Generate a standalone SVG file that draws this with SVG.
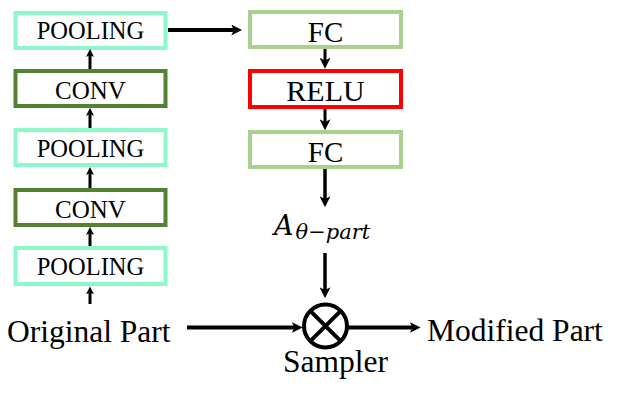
<svg xmlns="http://www.w3.org/2000/svg" width="623" height="401" viewBox="0 0 623 401">
<style>
.box{fill:#fff;stroke-width:4}
.pool{stroke:#8CF9CB}
.conv{stroke:#548235}
.fc{stroke:#A9D18E}
.relu{stroke:#FF0000}
.t{font-family:"Liberation Serif","Times New Roman",serif;fill:#000;text-anchor:middle}
.lbl{font-family:"Liberation Serif","Times New Roman",serif;fill:#000;font-size:31.5px}
.c{stroke:#000;fill:none}
</style>
<defs>
<marker id="big" viewBox="0 0 10 10" markerUnits="userSpaceOnUse" markerWidth="11" markerHeight="11" refX="3" refY="5" orient="auto">
<path d="M0,0 L10,5 L0,10 L2.5,5 z" fill="#000"/>
</marker>
<marker id="small" viewBox="0 0 10 10" markerUnits="userSpaceOnUse" markerWidth="8" markerHeight="8" refX="3" refY="5" orient="auto">
<path d="M0,0 L10,5 L0,10 L2.5,5 z" fill="#000"/>
</marker>
</defs>
<g id="pool1"><rect class="box pool" x="15.5" y="13" width="150" height="35"/><text class="t" x="90.5" y="39" font-size="24.5">POOLING</text></g>
<g id="conv1"><rect class="box conv" x="15.5" y="71" width="150" height="35"/><text class="t" x="90.5" y="98.5" font-size="25">CONV</text></g>
<g id="pool2"><rect class="box pool" x="15.5" y="130" width="150" height="35"/><text class="t" x="90.5" y="156.5" font-size="24.5">POOLING</text></g>
<g id="conv2"><rect class="box conv" x="15.5" y="190" width="150" height="35"/><text class="t" x="90.5" y="217.5" font-size="25">CONV</text></g>
<g id="pool3"><rect class="box pool" x="15.5" y="248" width="150" height="36"/><text class="t" x="90.5" y="275" font-size="24.5">POOLING</text></g>
<g id="fc1"><rect class="box fc" x="250" y="12" width="151" height="35"/><text class="t" x="325.5" y="41.5" font-size="29">FC</text></g>
<g id="relu"><rect class="box relu" x="250" y="71" width="151" height="36"/><text class="t" x="325.5" y="100.5" font-size="30">RELU</text></g>
<g id="fc2"><rect class="box fc" x="250" y="132" width="151" height="35"/><text class="t" x="325.5" y="161.5" font-size="29">FC</text></g>
<g id="theta"><text x="274" y="235" font-family="'DejaVu Serif',serif" font-style="italic" font-size="27">A<tspan font-size="21" dx="2" dy="4">θ−part</tspan></text></g>
<g id="sampler"><circle cx="325.5" cy="326" r="21.5" fill="#fff" stroke="#000" stroke-width="4"/><path d="M310.3,310.8 L340.7,341.2 M340.7,310.8 L310.3,341.2" stroke="#000" stroke-width="4"/><text class="lbl" x="283" y="372" font-size="31">Sampler</text></g>
<g id="original"><text class="lbl" x="7" y="342">Original Part</text></g>
<g id="modified"><text class="lbl" x="427" y="341">Modified Part</text></g>
<g id="connectors">
<line class="c" x1="90" y1="304" x2="90" y2="292" stroke-width="3" marker-end="url(#small)"/>
<line class="c" x1="90" y1="246" x2="90" y2="232.5" stroke-width="3" marker-end="url(#small)"/>
<line class="c" x1="90" y1="188" x2="90" y2="172.5" stroke-width="3" marker-end="url(#small)"/>
<line class="c" x1="90" y1="128" x2="90" y2="113.5" stroke-width="3" marker-end="url(#small)"/>
<line class="c" x1="90" y1="69" x2="90" y2="54.5" stroke-width="3" marker-end="url(#small)"/>
<line class="c" x1="168" y1="30" x2="234.5" y2="30" stroke-width="4" marker-end="url(#big)"/>
<line class="c" x1="325" y1="49" x2="325" y2="61" stroke-width="3" marker-end="url(#big)"/>
<line class="c" x1="325" y1="109" x2="325" y2="122.5" stroke-width="3" marker-end="url(#big)"/>
<line class="c" x1="325" y1="169" x2="325" y2="199.5" stroke-width="3.5" marker-end="url(#big)"/>
<line class="c" x1="325" y1="253" x2="325" y2="290.5" stroke-width="3.5" marker-end="url(#big)"/>
<line class="c" x1="187" y1="327.5" x2="295" y2="327.5" stroke-width="4" marker-end="url(#big)"/>
<line class="c" x1="347" y1="327.5" x2="413" y2="327.5" stroke-width="4" marker-end="url(#big)"/>
</g>
</svg>
